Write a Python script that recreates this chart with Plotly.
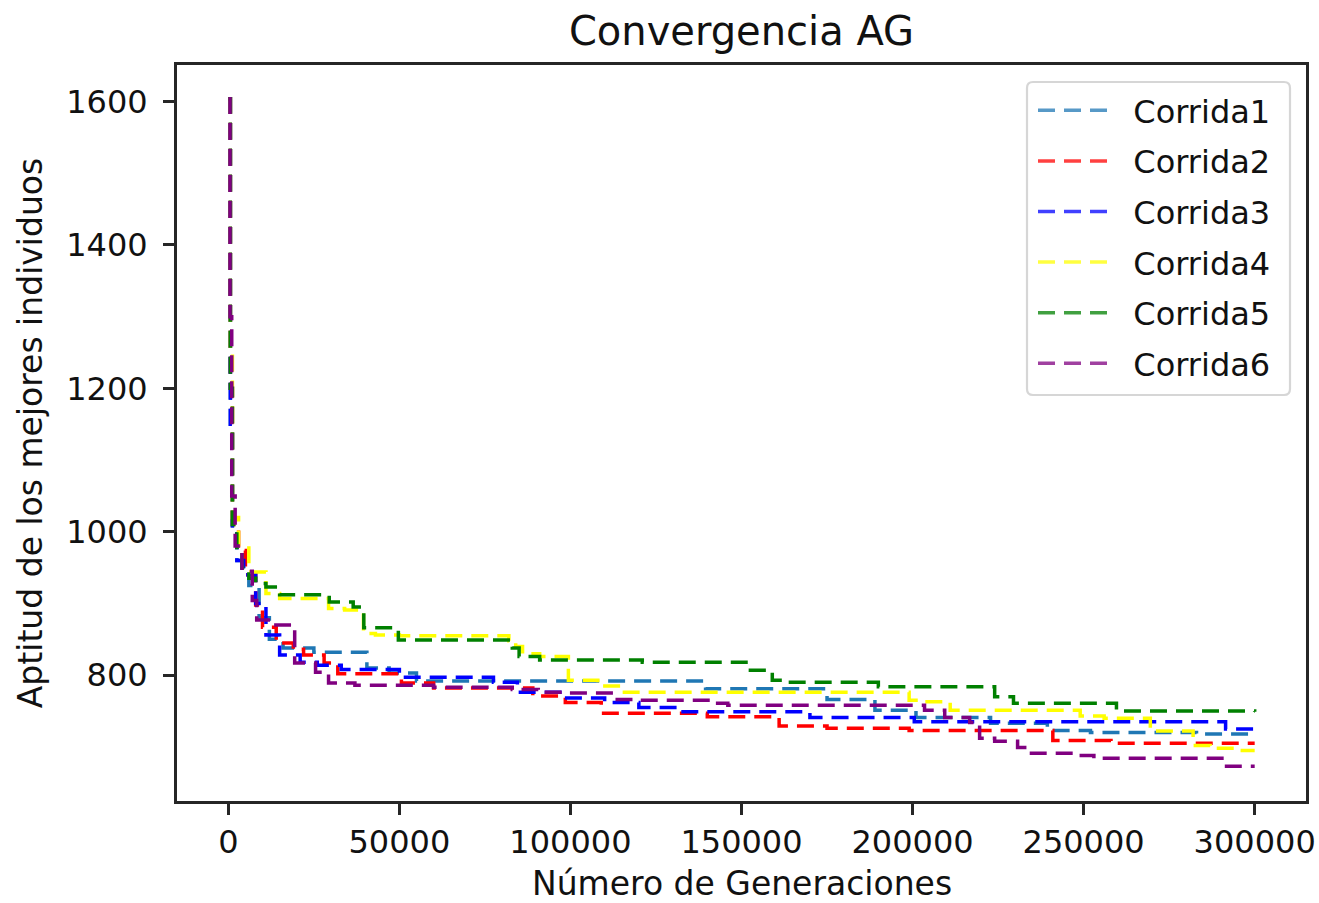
import plotly.graph_objects as go

# ---- data ----
run_names = ["Corrida1", "Corrida2", "Corrida3", "Corrida4", "Corrida5", "Corrida6"]

c1_x = [0, 600, 1200, 2500, 4000, 6000, 9000, 12000, 16000, 25000, 40500, 47000, 55000,
        139500, 175000, 189000, 201000, 222800, 239400, 252000, 283000, 300000]
c1_y = [1604, 1150, 1000, 960, 940, 925, 880, 850, 838, 832, 810, 803, 792,
        781, 766, 751, 741, 733, 723, 720, 718, 718]

c2_x = [0, 600, 1200, 3000, 5000, 8000, 10000, 14000, 19000, 22000, 28000, 32000, 50600,
        60000, 89000, 98500, 109000, 140000, 161000, 175000, 199000, 241000, 258000, 300000]
c2_y = [1604, 1200, 1010, 974, 940, 898, 867, 845, 836, 828, 817, 802, 789,
        782, 771, 762, 747, 742, 729, 726, 723, 709, 705, 705]

c3_x = [0, 600, 1200, 2500, 4500, 8000, 11000, 15000, 21000, 26000, 33000, 50000, 77500,
        84500, 98000, 110000, 120000, 132000, 170000, 200500, 291500, 300000]
c3_y = [1604, 1150, 1000, 960, 940, 900, 856, 828, 818, 814, 808, 797, 790,
        776, 768, 762, 755, 749, 741, 735, 725, 725]

c4_x = [0, 600, 1200, 3000, 6000, 11000, 15000, 29300, 34000, 39500, 43000, 50000, 82000,
        84000, 86000, 91000, 99400, 108000, 114000, 199000, 202000, 211000, 249000, 256000,
        269500, 282000, 287000, 294000, 300000]
c4_y = [1604, 1250, 1020, 980, 944, 914, 907, 893, 891, 858, 856, 855, 848,
        840, 830, 826, 793, 785, 776, 765, 763, 751, 743, 740,
        722, 702, 698, 695, 695]

c5_x = [0, 600, 1200, 2500, 4000, 6000, 8000, 11000, 15000, 29500, 36500, 39600, 49700,
        83000, 85000, 91000, 121000, 152600, 159000, 163000, 190000, 224000, 229500, 259600,
        300000]
c5_y = [1604, 1200, 1010, 975, 950, 935, 928, 923, 912, 902, 895, 866, 849,
        838, 826, 821, 818, 807, 793, 790, 784, 770, 761, 750,
        749]

c6_x = [0, 500, 1000, 2000, 4000, 7000, 8300, 13900, 19400, 25500, 29300, 37000, 60000,
        83000, 90600, 98000, 113000, 120000, 142000, 146000, 203500, 209400, 216700, 219600,
        224000, 230700, 233600, 234200, 247300, 253000, 291100, 300000]
c6_y = [1604, 1300, 1050, 980, 945, 904, 877, 870, 817, 804, 789, 786, 783,
        780, 776, 775, 766, 765, 761, 758, 751, 741, 734, 712,
        708, 699, 695, 691, 688, 684, 673, 673]

line_colors = ["#1f77b4", "#ff0000", "#0000ff", "#ffff00", "#008000", "#800080"]
legend_colors = ["rgba(31,119,180,0.75)", "rgba(255,0,0,0.75)", "rgba(0,0,255,0.75)",
                 "rgba(255,255,0,0.75)", "rgba(0,128,0,0.75)", "rgba(128,0,128,0.75)"]

xs = [c1_x, c2_x, c3_x, c4_x, c5_x, c6_x]
ys = [c1_y, c2_y, c3_y, c4_y, c5_y, c6_y]

x_ticks = [0, 50000, 100000, 150000, 200000, 250000, 300000]
y_ticks = [800, 1000, 1200, 1400, 1600]

title_text = "Convergencia AG"
x_title = "Número de Generaciones"
y_title = "Aptitud de los mejores individuos"

FONT = "DejaVu Sans"
DASH = "17px,9px"
NBSP = "\u00a0\u00a0"

W, H = 1319, 903
ML, MR, MT, MB = 177, 13, 65, 102
PW, PH = W - ML - MR, H - MT - MB


def px_to_paper(px, py):
    return (px - ML) / PW, 1 - (py - MT) / PH


fig = go.Figure()
for name, x, y, col in zip(run_names, xs, ys, line_colors):
    fig.add_trace(go.Scatter(x=x, y=y, mode="lines", name=name, showlegend=False,
                             line=dict(color=col, width=3.5, dash=DASH, shape="hv")))
for name, col in zip(run_names, legend_colors):
    fig.add_trace(go.Scatter(x=[None], y=[None], mode="lines", name=NBSP + name, legendgroup=name,
                             line=dict(color=col, width=3.5, dash=DASH)))

# legend frame (rounded box like matplotlib's fancybox)
bx0, by0 = px_to_paper(1027, 82)
bx1, by1 = px_to_paper(1290, 395)
r_x, r_y = 6 / PW, 6 / PH
box_path = (f"M {bx0 + r_x},{by0} L {bx1 - r_x},{by0} Q {bx1},{by0} {bx1},{by0 - r_y} "
            f"L {bx1},{by1 + r_y} Q {bx1},{by1} {bx1 - r_x},{by1} "
            f"L {bx0 + r_x},{by1} Q {bx0},{by1} {bx0},{by1 + r_y} "
            f"L {bx0},{by0 - r_y} Q {bx0},{by0} {bx0 + r_x},{by0} Z")
fig.add_shape(type="path", path=box_path, xref="paper", yref="paper", layer="above",
              line=dict(color="#d6d6d6", width=2.2), fillcolor="white")

# x-axis title as an annotation for precise placement
_, xt_y = px_to_paper(0, 883)
fig.add_annotation(text=x_title, x=0.5, y=xt_y, xref="paper", yref="paper",
                   xanchor="center", yanchor="middle", showarrow=False,
                   font=dict(family=FONT, size=33, color="#111"))

axis_common = dict(showline=True, mirror=True, linecolor="#262626", linewidth=3,
                   ticks="outside", ticklen=11, tickwidth=3, tickcolor="#262626",
                   showgrid=False, zeroline=False, automargin=False,
                   tickfont=dict(family=FONT, size=32, color="#111"))

lx, ly = px_to_paper(1033, 83)

fig.update_layout(
    width=W, height=H,
    margin=dict(l=ML, r=MR, t=MT, b=MB),
    paper_bgcolor="white", plot_bgcolor="white",
    font=dict(family=FONT, size=32, color="#111"),
    title=dict(text=title_text, x=0.5, xref="paper", y=1 - 31 / H, yref="container",
               xanchor="center", yanchor="middle",
               font=dict(family=FONT, size=40, color="#111")),
    xaxis=dict(range=[-15000, 315000], tickvals=x_ticks, ticktext=[str(v) for v in x_ticks],
               **axis_common),
    yaxis=dict(range=[624.5, 1651], tickvals=y_ticks, ticktext=[str(v) for v in y_ticks],
               ticklabelstandoff=9,
               title=dict(text=y_title, standoff=14,
                          font=dict(family=FONT, size=33, color="#111")),
               **axis_common),
    legend=dict(x=lx, y=ly, xanchor="left", yanchor="top",
                bgcolor="rgba(0,0,0,0)", borderwidth=0,
                font=dict(family=FONT, size=32, color="#111"),
                itemwidth=70, tracegroupgap=6, traceorder="grouped"),
)

fig.write_html("out.html")
